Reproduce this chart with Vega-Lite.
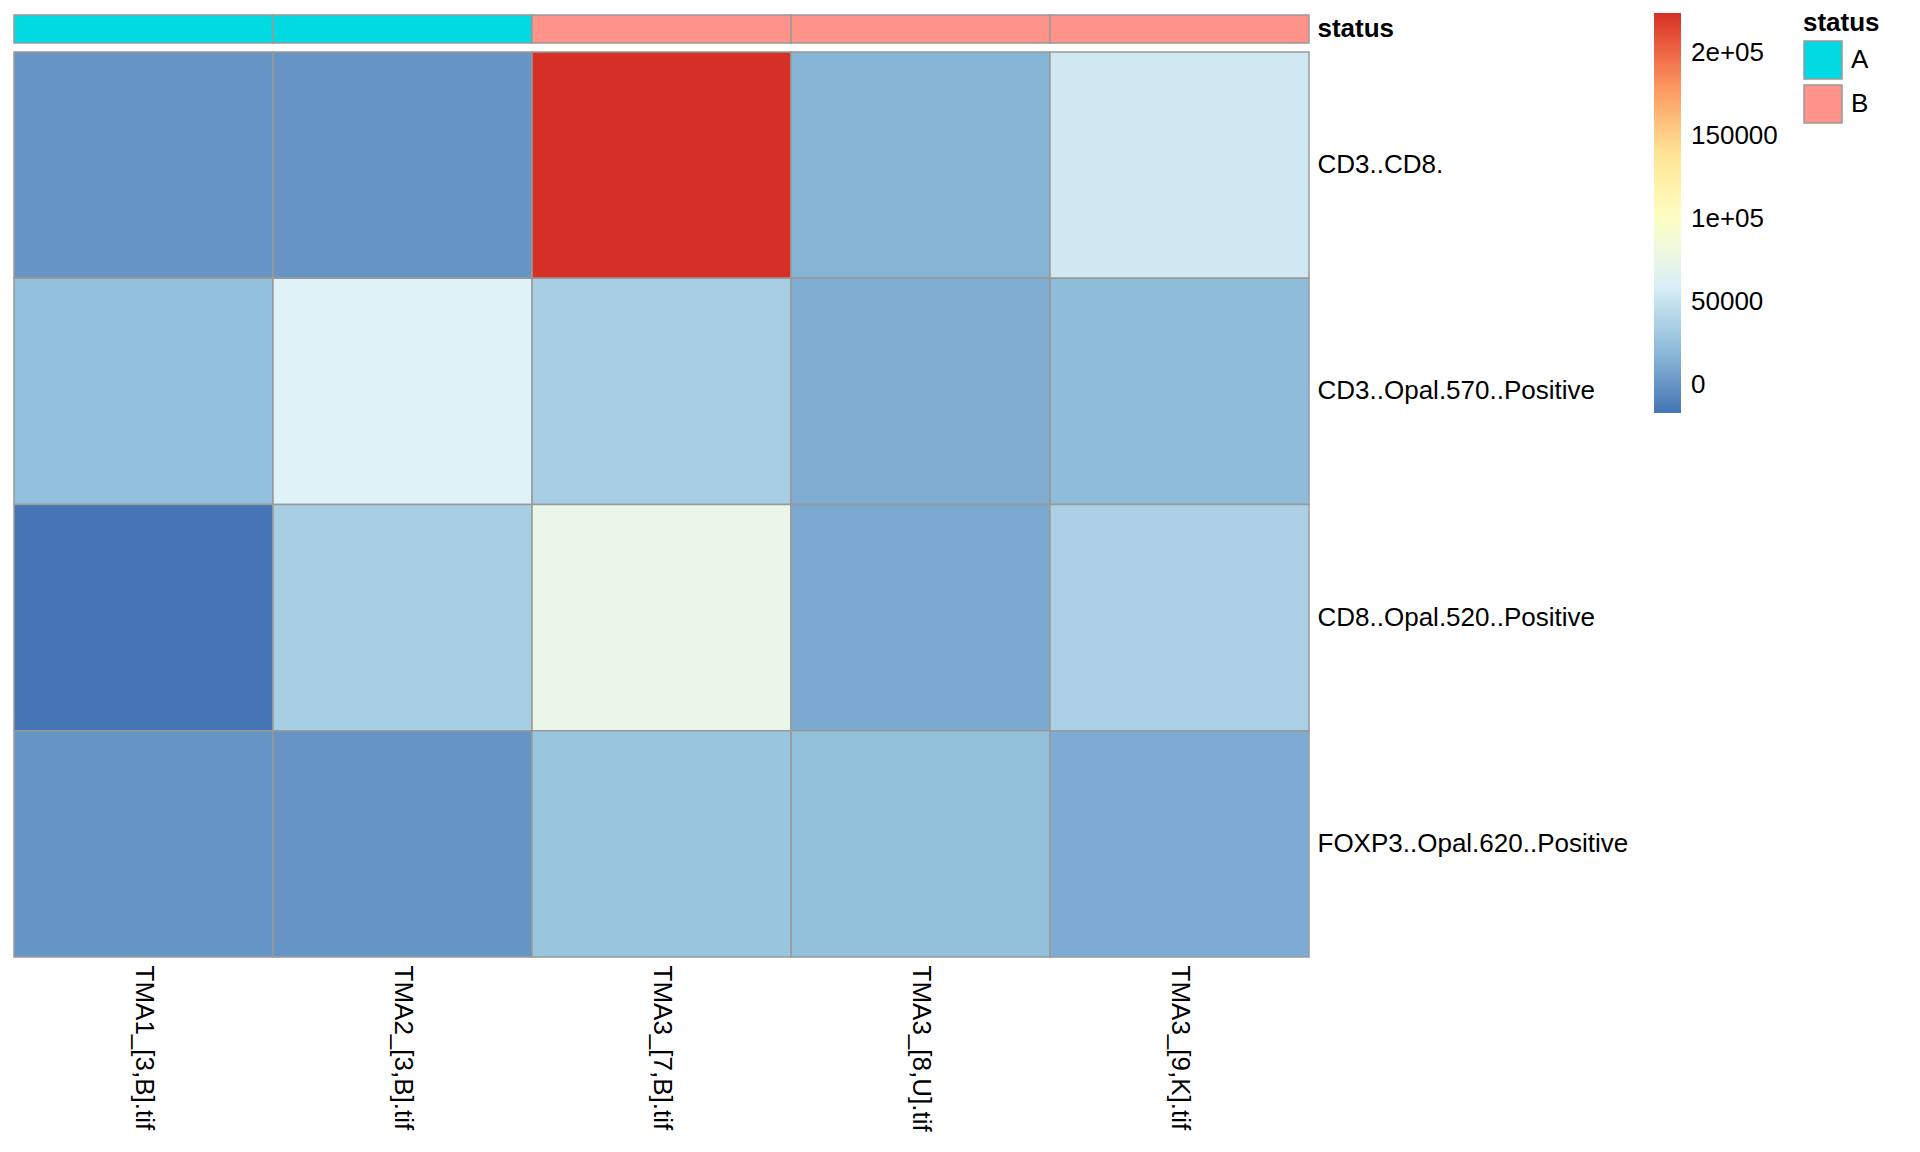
{
  "$schema": "https://vega.github.io/schema/vega-lite/v6.json",
  "background": "white",
  "padding": {"top": 10, "left": 13, "right": 0, "bottom": 0},
  "config": {
    "font": "Liberation Sans",
    "view": {"stroke": null},
    "axis": {"labelFont": "Liberation Sans", "labelFontSize": 26, "labelColor": "black", "ticks": false, "domain": false, "grid": false, "title": null, "labelLimit": 0},
    "legend": {"labelFont": "Liberation Sans", "titleFont": "Liberation Sans"}
  },
  "datasets": {
    "ann": [
      {"sample": "TMA1_[3,B].tif", "status": "A", "row": "status"},
      {"sample": "TMA2_[3,B].tif", "status": "A", "row": "status"},
      {"sample": "TMA3_[7,B].tif", "status": "B", "row": "status"},
      {"sample": "TMA3_[8,U].tif", "status": "B", "row": "status"},
      {"sample": "TMA3_[9,K].tif", "status": "B", "row": "status"}
    ],
    "heat": [
      {"sample": "TMA1_[3,B].tif", "marker": "CD3..CD8.", "value": 400},
      {"sample": "TMA2_[3,B].tif", "marker": "CD3..CD8.", "value": 300},
      {"sample": "TMA3_[7,B].tif", "marker": "CD3..CD8.", "value": 224100},
      {"sample": "TMA3_[8,U].tif", "marker": "CD3..CD8.", "value": 17500},
      {"sample": "TMA3_[9,K].tif", "marker": "CD3..CD8.", "value": 54600},
      {"sample": "TMA1_[3,B].tif", "marker": "CD3..Opal.570..Positive", "value": 24000},
      {"sample": "TMA2_[3,B].tif", "marker": "CD3..Opal.570..Positive", "value": 63000},
      {"sample": "TMA3_[7,B].tif", "marker": "CD3..Opal.570..Positive", "value": 35000},
      {"sample": "TMA3_[8,U].tif", "marker": "CD3..Opal.570..Positive", "value": 14000},
      {"sample": "TMA3_[9,K].tif", "marker": "CD3..Opal.570..Positive", "value": 21500},
      {"sample": "TMA1_[3,B].tif", "marker": "CD8..Opal.520..Positive", "value": -16900},
      {"sample": "TMA2_[3,B].tif", "marker": "CD8..Opal.520..Positive", "value": 35000},
      {"sample": "TMA3_[7,B].tif", "marker": "CD8..Opal.520..Positive", "value": 75000},
      {"sample": "TMA3_[8,U].tif", "marker": "CD8..Opal.520..Positive", "value": 11500},
      {"sample": "TMA3_[9,K].tif", "marker": "CD8..Opal.520..Positive", "value": 36500},
      {"sample": "TMA1_[3,B].tif", "marker": "FOXP3..Opal.620..Positive", "value": 500},
      {"sample": "TMA2_[3,B].tif", "marker": "FOXP3..Opal.620..Positive", "value": 300},
      {"sample": "TMA3_[7,B].tif", "marker": "FOXP3..Opal.620..Positive", "value": 27600},
      {"sample": "TMA3_[8,U].tif", "marker": "FOXP3..Opal.620..Positive", "value": 24500},
      {"sample": "TMA3_[9,K].tif", "marker": "FOXP3..Opal.620..Positive", "value": 12500}
    ]
  },
  "spacing": 7,
  "vconcat": [
    {
      "width": 1295,
      "height": 28,
      "data": {"name": "ann"},
      "mark": {"type": "rect", "stroke": "#999999", "strokeWidth": 1.5},
      "encoding": {
        "x": {"field": "sample", "type": "nominal", "sort": null, "scale": {"paddingInner": 0, "paddingOuter": 0}, "axis": null},
        "y": {"field": "row", "type": "nominal", "scale": {"paddingInner": 0, "paddingOuter": 0}, "axis": {"orient": "right", "labelPadding": 8, "labelFontWeight": "bold", "labelAlign": "left"}},
        "fill": {
          "field": "status", "type": "nominal",
          "scale": {"domain": ["A", "B"], "range": ["#00DAE0", "#FF9289"]},
          "legend": {
            "orient": "none", "legendX": 1789, "legendY": -5, "direction": "vertical",
            "title": "status", "titleFontSize": 26, "titleFontWeight": "bold", "titleColor": "black", "titlePadding": 4,
            "symbolType": "square", "symbolSize": 1444, "symbolStrokeColor": "#999999", "symbolStrokeWidth": 1.5, "symbolOpacity": 1,
            "labelFontSize": 26, "labelColor": "black", "labelOffset": 8, "rowPadding": 0
          }
        }
      }
    },
    {
      "width": 1295,
      "height": 905,
      "data": {"name": "heat"},
      "mark": {"type": "rect", "stroke": "#999999", "strokeWidth": 1.5},
      "encoding": {
        "x": {"field": "sample", "type": "nominal", "sort": null, "scale": {"paddingInner": 0, "paddingOuter": 0}, "axis": {"orient": "bottom", "labelAngle": 90, "labelAlign": "left", "labelBaseline": "middle", "labelPadding": 8}},
        "y": {"field": "marker", "type": "nominal", "sort": null, "scale": {"paddingInner": 0, "paddingOuter": 0}, "axis": {"orient": "right", "labelPadding": 8, "labelAlign": "left"}},
        "color": {
          "field": "value", "type": "quantitative",
          "scale": {
            "type": "linear",
            "domain": [-16900, 23267, 63433, 103600, 143767, 183933, 224100],
            "range": ["#4575B4", "#91BFDB", "#E0F3F8", "#FFFFBF", "#FEE090", "#FC8D59", "#D73027"],
            "interpolate": "rgb"
          },
          "legend": {
            "orient": "none", "legendX": 1640, "legendY": -2, "direction": "vertical",
            "title": null, "gradientLength": 400, "gradientThickness": 27, "gradientStrokeWidth": 0,
            "values": [0, 50000, 100000, 150000, 200000],
            "labelExpr": "datum.value == 200000 ? '2e+05' : datum.value == 100000 ? '1e+05' : format(datum.value, 'd')",
            "labelFontSize": 26, "labelColor": "black", "labelOffset": 10, "labelOverlap": false
          }
        }
      }
    }
  ]
}
